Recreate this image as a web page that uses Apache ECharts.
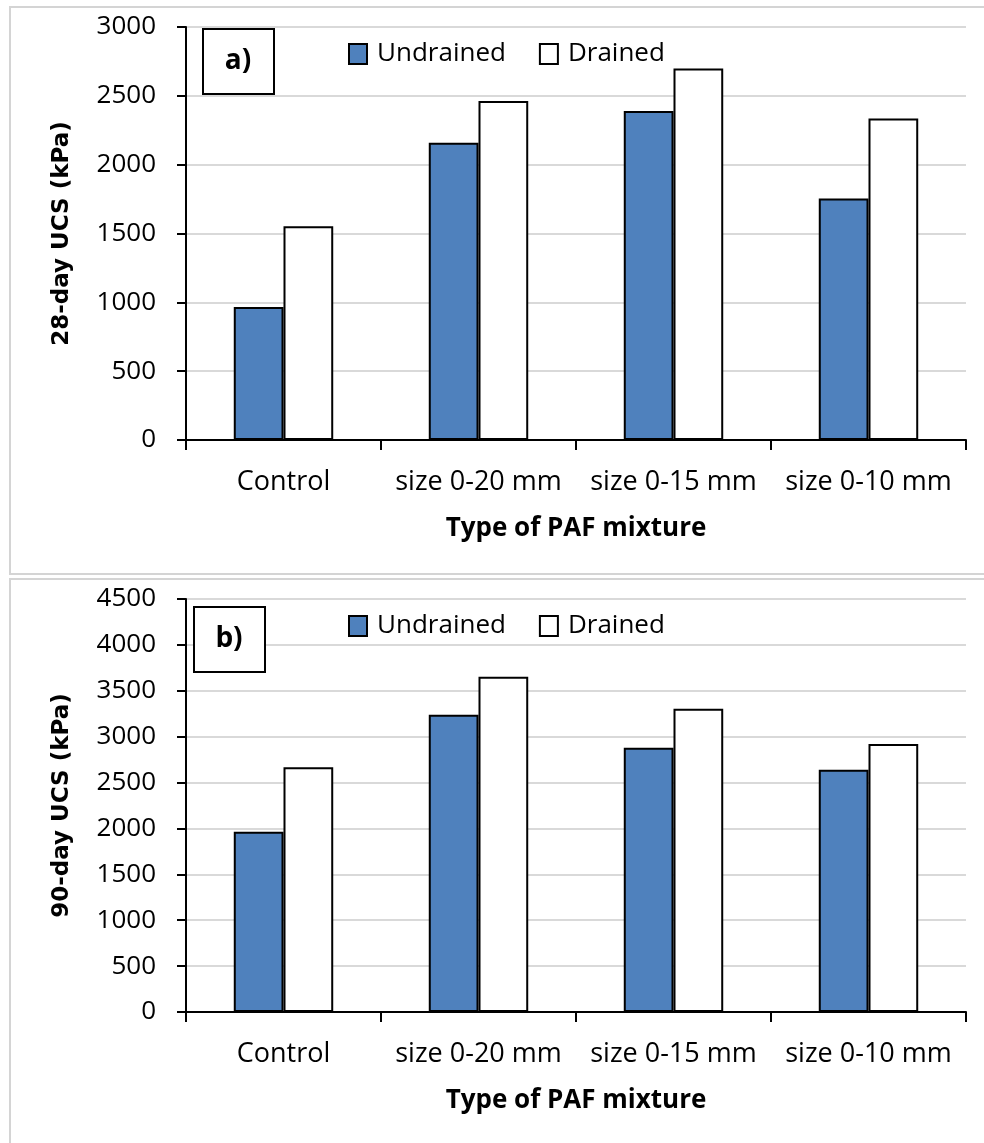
<!DOCTYPE html>
<html>
<head>
<meta charset="utf-8">
<script src="https://cdn.jsdelivr.net/npm/echarts@6/dist/echarts.min.js"></script>
<style>html,body{margin:0;padding:0;background:#fff}#c{width:984px;height:1143px}</style>
</head>
<body>
<div id="c"></div>
<script>
const categories = ['Control', 'size 0-20 mm', 'size 0-15 mm', 'size 0-10 mm'];
const undrained28 = [966, 2160, 2390, 1755];
const drained28 = [1552, 2463, 2698, 2336];
const undrained90 = [1963, 3238, 2879, 2640];
const drained90 = [2668, 3652, 3305, 2919];
const yName28 = '28-day UCS (kPa)';
const yName90 = '90-day UCS (kPa)';
const xName = 'Type of PAF mixture';
const seriesNames = ['Undrained', 'Drained'];

const FONT = '"Open Sans", "Liberation Sans", sans-serif';
const BLUE = '#4F81BD';

function xAxis(gridIndex) {
  return {
    type: 'category', gridIndex, data: categories,
    axisLine: {lineStyle: {color: '#000', width: 2}},
    axisTick: {show: true, length: 10, lineStyle: {color: '#000', width: 2}},
    axisLabel: {color: '#000', fontSize: 27, fontFamily: FONT, margin: 29, interval: 0, hideOverlap: false},
    name: xName, nameLocation: 'middle', nameGap: 76,
    nameTextStyle: {color: '#000', fontSize: 26, fontWeight: 'bold', fontFamily: FONT}
  };
}
function yAxis(gridIndex, max, name) {
  return {
    type: 'value', gridIndex, min: 0, max, interval: 500,
    axisLine: {show: true, lineStyle: {color: '#000', width: 2}},
    axisTick: {show: true, length: 9, lineStyle: {color: '#000', width: 2}},
    axisLabel: {color: '#000', fontSize: 26, fontFamily: FONT, margin: 30, formatter: v => String(v)},
    splitLine: {lineStyle: {color: '#d9d9d9', width: 2}},
    name, nameLocation: 'middle', nameGap: 112,
    nameTextStyle: {color: '#000', fontSize: 23, fontWeight: 'bold', fontFamily: '"DejaVu Sans", sans-serif'}
  };
}
function bar(name, data, idx, color) {
  return {
    name, type: 'bar', data, xAxisIndex: idx, yAxisIndex: idx,
    barGap: '0%', barCategoryGap: '49%',
    itemStyle: {color, borderColor: '#000', borderWidth: 2},
    emphasis: {disabled: true}
  };
}
function legend(top) {
  return {
    top, left: 348, padding: 0, itemWidth: 18, itemHeight: 20, itemGap: 33,
    data: seriesNames.map(n => ({name: n})),
    textStyle: {color: '#000', fontSize: 26, fontFamily: FONT, lineHeight: 20, padding: [0, 0, 0, 5]},
    icon: 'rect'
  };
}

const chart = echarts.init(document.getElementById('c'), null, {renderer: 'canvas'});
chart.setOption({
  animation: false,
  backgroundColor: '#fff',
  grid: [
    {left: 186, top: 27, width: 780, height: 413},
    {left: 186, top: 599, width: 780, height: 413}
  ],
  xAxis: [xAxis(0), xAxis(1)],
  yAxis: [yAxis(0, 3000, yName28), yAxis(1, 4500, yName90)],
  legend: [legend(41), legend(613)],
  series: [
    bar(seriesNames[0], undrained28, 0, BLUE),
    bar(seriesNames[1], drained28, 0, '#fff'),
    bar(seriesNames[0], undrained90, 1, BLUE),
    bar(seriesNames[1], drained90, 1, '#fff')
  ],
  graphic: [
    {type: 'rect', shape: {x: 10, y: 7, width: 990, height: 567}, style: {fill: 'none', stroke: '#d4d4d4', lineWidth: 2}, silent: true, z: -1},
    {type: 'rect', shape: {x: 10, y: 579, width: 990, height: 580}, style: {fill: 'none', stroke: '#d4d4d4', lineWidth: 2}, silent: true, z: -1},
    {type: 'rect', shape: {x: 203, y: 29, width: 71, height: 65}, style: {fill: '#fff', stroke: '#000', lineWidth: 2}, z: 10},
    {type: 'text', x: 238, y: 61, style: {text: 'a)', fontSize: 28, fontWeight: 'bold', fontFamily: FONT, fill: '#000', align: 'center', verticalAlign: 'middle'}, z: 11},
    {type: 'rect', shape: {x: 194, y: 607, width: 71, height: 65}, style: {fill: '#fff', stroke: '#000', lineWidth: 2}, z: 10},
    {type: 'text', x: 229, y: 639, style: {text: 'b)', fontSize: 28, fontWeight: 'bold', fontFamily: FONT, fill: '#000', align: 'center', verticalAlign: 'middle'}, z: 11}
  ]
});
</script>
</body>
</html>
